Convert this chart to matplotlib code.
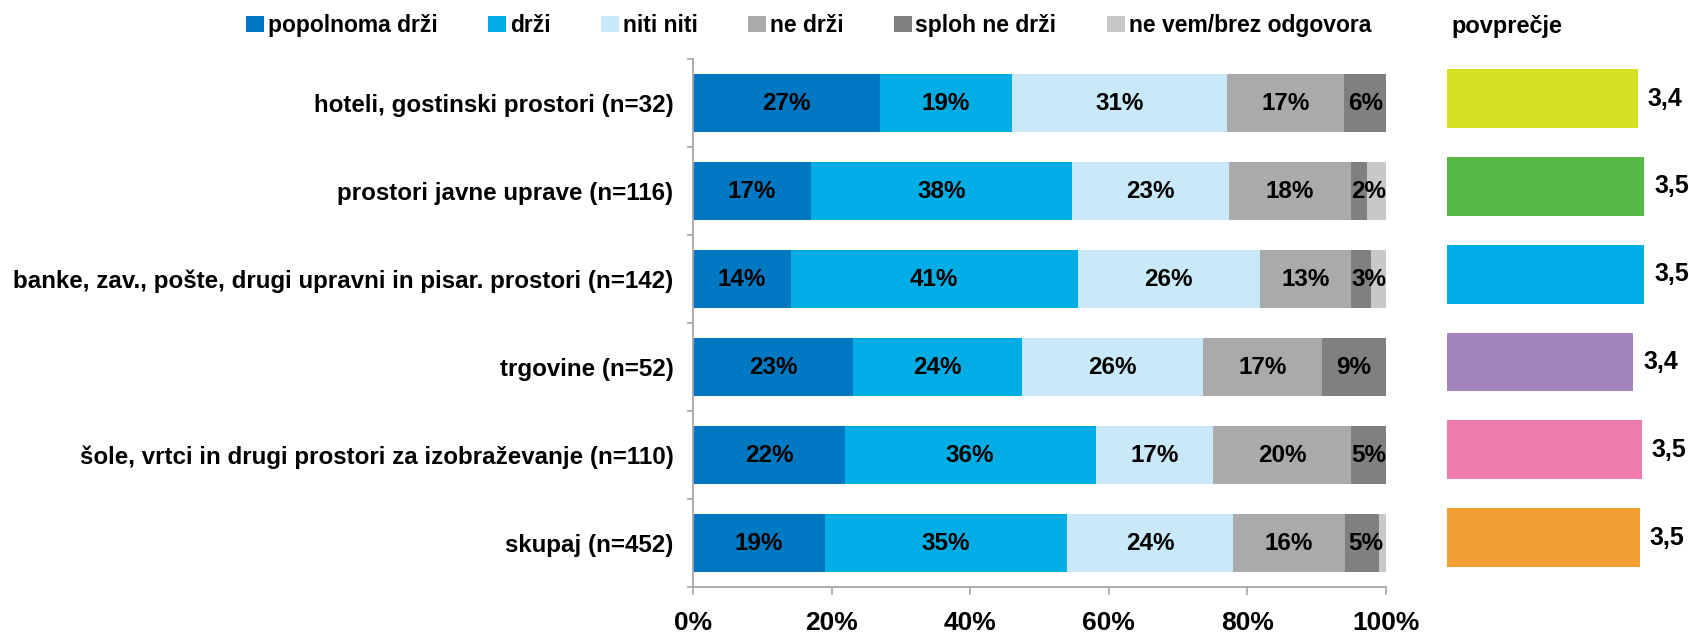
import matplotlib
matplotlib.use('Agg')
import matplotlib.pyplot as plt
import numpy as np

plt.rcParams['font.family'] = ['Liberation Sans', 'DejaVu Sans']
plt.rcParams['font.weight'] = 'bold'

categories = ["hoteli, gostinski prostori (n=32)",
              "prostori javne uprave (n=116)",
              "banke, zav., pošte, drugi upravni in pisar. prostori (n=142)",
              "trgovine (n=52)",
              "šole, vrtci in drugi prostori za izobraževanje (n=110)",
              "skupaj (n=452)"]
series_names = ["popolnoma drži", "drži", "niti niti", "ne drži",
                "sploh ne drži", "ne vem/brez odgovora"]
popolnoma = [27.0, 17.0, 14.1, 23.1, 21.9, 19.0]
drzi = [19.0, 37.7, 41.4, 24.4, 36.2, 35.0]
niti = [31.0, 22.6, 26.3, 26.1, 16.9, 23.9]
ne_drzi = [17.0, 17.6, 13.2, 17.2, 20.0, 16.2]
sploh = [6.0, 2.3, 2.9, 9.2, 5.0, 4.9]
ne_vem = [0.0, 2.8, 2.1, 0.0, 0.0, 1.0]
averages = [3.44, 3.52, 3.52, 3.38, 3.49, 3.46]
avg_title = "povprečje"
x_ticks = [0, 20, 40, 60, 80, 100]

series_colors = ["#0079C2", "#00AEE5", "#C9E8F8", "#A9AAAC", "#808080", "#C8C8C8"]
avg_colors = ["#D6DF22", "#58B947", "#00AEE5", "#A385BD", "#EE7BAE", "#F39E33"]

W, H = 1689, 634
fig = plt.figure(figsize=(W / 100, H / 100), dpi=100)

ax = fig.add_axes([693 / W, 47 / H, 693 / W, 528 / H])
ax2 = fig.add_axes([1447 / W, 52.4 / H, 242 / W, 527 / H])

FS_CAT = 17.4
FS_BAR = 17.5
FS_LEG = 16.5
y = np.arange(len(categories))
series = [popolnoma, drzi, niti, ne_drzi, sploh, ne_vem]
left = np.zeros(len(categories))
handles = []
for i, (vals, name, col) in enumerate(zip(series, series_names, series_colors)):
    vals = np.array(vals)
    b = ax.barh(y, vals, left=left, height=0.66, color=col, label=name)
    handles.append(b)
    if i < 5:
        for j, v in enumerate(vals):
            if v <= 0:
                continue
            if i == 4:
                cx = (left[j] + 100) / 2
            else:
                cx = left[j] + v / 2
            ax.text(cx, y[j], f"{v:.0f}%", ha='center', va='center',
                    fontsize=FS_BAR, fontweight='bold', color='black')
    left = left + vals

ax.set_xlim(0, 100)
ax.set_ylim(len(categories) - 0.5, -0.5)
ax.set_yticks(y)
ax.set_yticklabels(categories, fontsize=FS_CAT, fontweight='bold')
ax.set_yticks(np.arange(-0.5, len(categories), 1.0), minor=True)
ax.tick_params(axis='y', which='major', length=0, pad=14)
ax.tick_params(axis='y', which='minor', length=4, width=1.2, color='#A6A6A6', direction='out')
ax.set_xticks(x_ticks)
ax.set_xticklabels([f"{t}%" for t in x_ticks], fontsize=19, fontweight='bold')
ax.tick_params(axis='x', length=6, width=1.2, color='#A6A6A6', pad=11)
for s in ['top', 'right']:
    ax.spines[s].set_visible(False)
for s in ['left', 'bottom']:
    ax.spines[s].set_color('#A6A6A6')
    ax.spines[s].set_linewidth(1.3)

fig.legend(handles=handles, labels=series_names, loc='center left',
           bbox_to_anchor=(246 / W, 1 - 25.5 / H), ncol=6, frameon=False,
           handlelength=0.8, handleheight=0.75, handletextpad=0.15,
           columnspacing=2.2, borderpad=0, borderaxespad=0,
           prop={'weight': 'bold', 'size': FS_LEG})

ax2.barh(y, averages, height=0.67, color=avg_colors)
ax2.set_xlim(1, 1 + 242 / 78.3)
ax2.set_ylim(len(categories) - 0.5, -0.5)
for j, v in enumerate(averages):
    ax2.annotate(f"{v:.1f}".replace('.', ','), xy=(v, y[j]), xytext=(7, 0),
                 textcoords='offset points', ha='left', va='center',
                 fontsize=18, fontweight='bold', annotation_clip=False)
ax2.axis('off')
fig.text(1451 / W, 1 - 26 / H, avg_title, ha='left', va='center',
         fontsize=17, fontweight='bold')

fig.savefig('out.png', dpi=100)
